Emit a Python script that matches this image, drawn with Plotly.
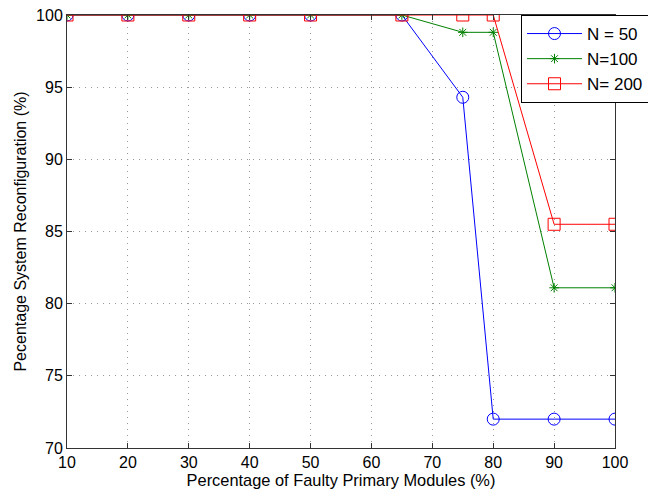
import plotly.graph_objects as go

x_vals = [10, 20, 30, 40, 50, 65, 75, 80, 90, 100]
n50 = [100, 100, 100, 100, 100, 100, 94.3, 72.0, 72.0, 72.0]
n100 = [100, 100, 100, 100, 100, 100, 98.8, 98.8, 81.1, 81.1]
n200 = [100, 100, 100, 100, 100, 100, 100, 100, 85.5, 85.5]
x_ticks = [10, 20, 30, 40, 50, 60, 70, 80, 90, 100]
y_ticks = [70, 75, 80, 85, 90, 95, 100]

FONT = "Liberation Sans, Arial, Helvetica, sans-serif"

fig = go.Figure()
fig.add_trace(go.Scatter(x=x_vals, y=n50, mode="lines+markers", name="N = 50",
                         line=dict(color="#0000FF", width=1),
                         marker=dict(symbol="circle-open", size=12, color="#0000FF", line=dict(width=1))))
fig.add_trace(go.Scatter(x=x_vals, y=n100, mode="lines+markers", name="N=100",
                         line=dict(color="#008000", width=1),
                         marker=dict(symbol="asterisk-open", size=8, color="#008000", line=dict(width=1))))
fig.add_trace(go.Scatter(x=x_vals, y=n200, mode="lines+markers", name="N= 200",
                         line=dict(color="#FF0000", width=1),
                         marker=dict(symbol="square-open", size=12, color="#FF0000", line=dict(width=1))))

axis_common = dict(showline=True, linecolor="#333333", linewidth=1, mirror="ticks",
                   ticks="inside", ticklen=5, tickcolor="#333333",
                   showgrid=True, gridcolor="#999999", griddash="1px,5px", gridwidth=1,
                   zeroline=False, tickfont=dict(size=16, color="black", family=FONT))

fig.update_xaxes(range=[10, 100], tickvals=x_ticks, **axis_common,
                 title=dict(text="Percentage of Faulty Primary Modules (%)", standoff=4,
                            font=dict(size=16.4, color="black", family=FONT)))
fig.update_yaxes(range=[70, 100], tickvals=y_ticks, **axis_common,
                 title=dict(text="Pecentage System Reconfiguration (%)", standoff=5,
                            font=dict(size=16, color="black", family=FONT)))

fig.update_layout(
    width=648, height=496,
    margin=dict(l=67, r=33, t=15, b=48, autoexpand=False),
    plot_bgcolor="white", paper_bgcolor="white",
    font=dict(family=FONT, size=14, color="black"),
    legend=dict(xref="container", yref="container", x=521 / 648, y=1 - 15 / 496,
                xanchor="left", yanchor="top",
                bgcolor="white", bordercolor="black", borderwidth=1,
                itemwidth=55, font=dict(size=17, color="black")),
)

fig.write_html("out.html", post_script="document.body.style.margin='0';",
               config={"displayModeBar": False})
